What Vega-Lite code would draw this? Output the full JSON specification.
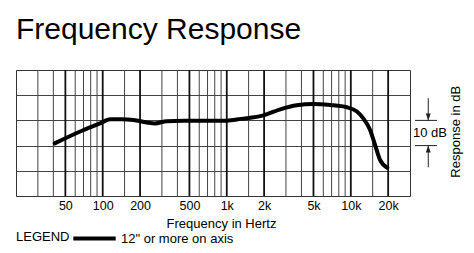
{
  "$schema": "https://vega.github.io/schema/vega-lite/v6.json",
  "width": 394,
  "height": 126,
  "autosize": "none",
  "padding": {"left": 16, "top": 70, "right": 64, "bottom": 57},
  "background": "white",
  "config": {"font": "Liberation Sans", "view": {"stroke": "#333", "strokeWidth": 1}},
  "title": {"text": "Frequency Response", "anchor": "start", "fontSize": 30, "fontWeight": "normal", "color": "#000", "offset": 0, "baseline": "alphabetic"},
  "datasets": {
    "minor": [{"f":30},{"f":40},{"f":60},{"f":70},{"f":80},{"f":90},{"f":150},{"f":300},{"f":400},{"f":600},{"f":700},{"f":800},{"f":900},{"f":1500},{"f":3000},{"f":4000},{"f":6000},{"f":7000},{"f":8000},{"f":9000},{"f":15000}],
    "major": [{"f":50},{"f":100},{"f":200},{"f":500},{"f":1000},{"f":2000},{"f":5000},{"f":10000},{"f":20000}],
    "curve": [{"f":41,"db":-9.1},{"f":68,"db":-4.1},{"f":95,"db":-1.2},{"f":115,"db":0.5},{"f":140,"db":0.5},{"f":177,"db":0.2},{"f":226,"db":-0.8},{"f":264,"db":-1.2},{"f":328,"db":-0.3},{"f":450,"db":-0.1},{"f":1000,"db":-0.1},{"f":1300,"db":0.6},{"f":1975,"db":2.0},{"f":2700,"db":4.4},{"f":3670,"db":6.0},{"f":5000,"db":6.5},{"f":6800,"db":6.1},{"f":9300,"db":5.2},{"f":11200,"db":3.5},{"f":12600,"db":0.8},{"f":14300,"db":-3.8},{"f":15700,"db":-9.8},{"f":17200,"db":-15.7},{"f":19700,"db":-18.8}],
    "dbticks": [{"f":32900,"f2":49500,"db":0},{"f":32900,"f2":49500,"db":-10}],
    "arrows": [{"f":42100,"db":8.8,"db2":0},{"f":42100,"db":-10,"db2":-18.6}],
    "headsDown": [{"f":42100,"db":0}],
    "headsUp": [{"f":42100,"db":-10}],
    "dbLabel": [{"f":43500,"db":-4.9,"label":"10 dB"}],
    "sideLabel": [{"f":70500,"db":-4.5,"label":"Response in dB"}]
  },
  "layer": [
    {
      "data": {"name": "curve"},
      "mark": {"type": "line", "interpolate": "monotone", "strokeWidth": 0, "opacity": 0},
      "encoding": {
        "x": {"field": "f", "type": "quantitative", "scale": {"type": "log", "domain": [20, 30000], "nice": false},
          "axis": {"values": [50,100,200,500,1000,2000,5000,10000,20000], "labelExpr": "datum.value >= 1000 ? (datum.value/1000) + 'k' : datum.label", "grid": false, "ticks": false, "domain": false, "labelPadding": 3, "labelFontSize": 12.5, "labelColor": "#000", "title": "Frequency in Hertz", "titleFontSize": 13, "titleFontWeight": "normal", "titleColor": "#000", "titlePadding": 6, "titleX": 205, "titleAlign": "center"}},
        "y": {"field": "db", "type": "quantitative", "scale": {"domain": [-30, 20], "nice": false, "zero": false},
          "axis": {"values": [-20, -10, 0, 10], "grid": true, "gridColor": "#444", "gridWidth": 1, "gridOpacity": 1, "labels": false, "ticks": false, "domain": false, "title": null}}
      }
    },
    {
      "data": {"name": "minor"},
      "mark": {"type": "rule", "stroke": "#444", "strokeWidth": 1},
      "encoding": {"x": {"field": "f", "type": "quantitative", "scale": {"type": "log", "domain": [20, 30000], "nice": false}}}
    },
    {
      "data": {"name": "major"},
      "mark": {"type": "rule", "stroke": "#111", "strokeWidth": 1.8},
      "encoding": {"x": {"field": "f", "type": "quantitative", "scale": {"type": "log", "domain": [20, 30000], "nice": false}}}
    },
    {
      "data": {"name": "curve"},
      "mark": {"type": "line", "interpolate": "monotone", "strokeWidth": 4, "strokeCap": "round"},
      "encoding": {
        "x": {"field": "f", "type": "quantitative", "scale": {"type": "log", "domain": [20, 30000], "nice": false}},
        "y": {"field": "db", "type": "quantitative", "scale": {"domain": [-30, 20], "nice": false, "zero": false}},
        "color": {"datum": "12\" or more on axis", "type": "nominal", "scale": {"range": ["#000"]},
          "legend": {"orient": "none", "legendX": 0, "legendY": 145, "direction": "horizontal", "title": "LEGEND", "titleOrient": "left", "titleAnchor": "middle", "titleBaseline": "top", "titleFontSize": 13, "titleFontWeight": "normal", "titleColor": "#000", "titlePadding": 1, "symbolType": "stroke", "symbolSize": 1800, "symbolStrokeWidth": 4, "labelFontSize": 13, "labelColor": "#000", "labelOffset": 3}}
      }
    },
    {
      "data": {"name": "dbticks"},
      "mark": {"type": "rule", "stroke": "#222", "strokeWidth": 1},
      "encoding": {
        "x": {"field": "f", "type": "quantitative", "scale": {"type": "log", "domain": [20, 30000], "nice": false}},
        "x2": {"field": "f2"},
        "y": {"field": "db", "type": "quantitative", "scale": {"domain": [-30, 20], "nice": false, "zero": false}}
      }
    },
    {
      "data": {"name": "arrows"},
      "mark": {"type": "rule", "stroke": "#222", "strokeWidth": 1},
      "encoding": {
        "x": {"field": "f", "type": "quantitative", "scale": {"type": "log", "domain": [20, 30000], "nice": false}},
        "y": {"field": "db", "type": "quantitative", "scale": {"domain": [-30, 20], "nice": false, "zero": false}},
        "y2": {"field": "db2"}
      }
    },
    {
      "data": {"name": "headsDown"},
      "mark": {"type": "point", "shape": "M-0.7,-1L0.7,-1L0,1Z", "size": 49, "filled": true, "color": "#222", "opacity": 1, "yOffset": -3.5},
      "encoding": {
        "x": {"field": "f", "type": "quantitative", "scale": {"type": "log", "domain": [20, 30000], "nice": false}},
        "y": {"field": "db", "type": "quantitative", "scale": {"domain": [-30, 20], "nice": false, "zero": false}}
      }
    },
    {
      "data": {"name": "headsUp"},
      "mark": {"type": "point", "shape": "M-0.7,1L0.7,1L0,-1Z", "size": 49, "filled": true, "color": "#222", "opacity": 1, "yOffset": 3.5},
      "encoding": {
        "x": {"field": "f", "type": "quantitative", "scale": {"type": "log", "domain": [20, 30000], "nice": false}},
        "y": {"field": "db", "type": "quantitative", "scale": {"domain": [-30, 20], "nice": false, "zero": false}}
      }
    },
    {
      "data": {"name": "dbLabel"},
      "mark": {"type": "text", "fontSize": 13, "color": "#000", "align": "center", "baseline": "middle"},
      "encoding": {
        "x": {"field": "f", "type": "quantitative", "scale": {"type": "log", "domain": [20, 30000], "nice": false}},
        "y": {"field": "db", "type": "quantitative", "scale": {"domain": [-30, 20], "nice": false, "zero": false}},
        "text": {"field": "label"}
      }
    },
    {
      "data": {"name": "sideLabel"},
      "mark": {"type": "text", "fontSize": 13, "color": "#000", "align": "center", "baseline": "middle", "angle": 270},
      "encoding": {
        "x": {"field": "f", "type": "quantitative", "scale": {"type": "log", "domain": [20, 30000], "nice": false}},
        "y": {"field": "db", "type": "quantitative", "scale": {"domain": [-30, 20], "nice": false, "zero": false}},
        "text": {"field": "label"}
      }
    }
  ]
}
